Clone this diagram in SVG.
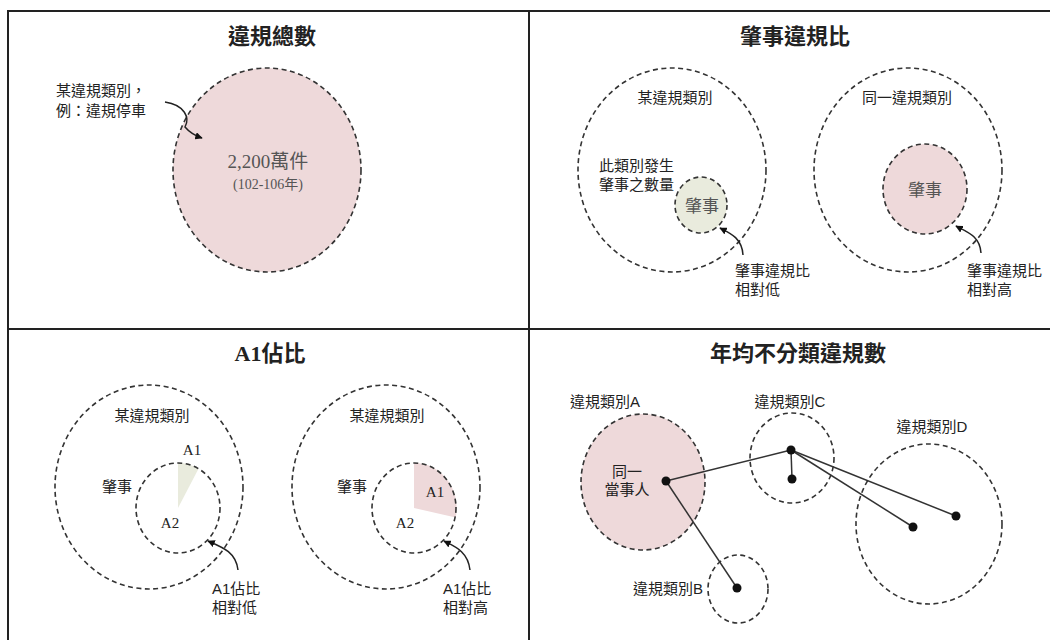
<svg xmlns="http://www.w3.org/2000/svg" width="1050" height="640" viewBox="0 0 1050 640">
<defs>
<marker id="ah" viewBox="0 0 10 10" refX="9" refY="5" markerWidth="5" markerHeight="5" orient="auto-start-reverse">
<path d="M0,0 L10,5 L0,10 z" fill="#111"/>
</marker>
<style>
.frame{fill:none;stroke:#222;stroke-width:2}
.dash{fill:none;stroke:#333;stroke-width:1.6;stroke-dasharray:5 3.5}
.pink{fill:#eed9da}
.green{fill:#e9ebdd}
.title{font-family:"Liberation Serif","Noto Sans CJK TC",serif;font-size:22px;font-weight:bold;fill:#222;text-anchor:middle}
.lbl{font-family:"Liberation Sans","Noto Sans CJK TC",sans-serif;font-size:15px;fill:#222}
.mid{text-anchor:middle}
.big{font-family:"Liberation Serif","Noto Sans CJK TC",serif;font-size:19px;fill:#555;text-anchor:middle}
.ser{font-family:"Liberation Serif","Noto Sans CJK TC",serif;font-size:15px;fill:#222;text-anchor:middle}
.arr{fill:none;stroke:#222;stroke-width:1.5;marker-end:url(#ah)}
.edge{stroke:#333;stroke-width:1.5}
.dot{fill:#111}
</style>
</defs>
<rect width="1050" height="640" fill="#fff"/>
<g id="frame">
<rect class="frame" x="8" y="11" width="1050" height="640"/>
<line class="frame" x1="529" y1="11" x2="529" y2="640"/>
<line class="frame" x1="8" y1="329" x2="1050" y2="329"/>
</g>

<g id="panel-total">
<text class="title" x="272" y="44">違規總數</text>
<ellipse class="dash pink" cx="267" cy="170" rx="94" ry="102"/>
<text class="big" x="268" y="168">2,200萬件</text>
<text class="big" x="268" y="189" style="font-size:14px">(102-106年)</text>
<text class="lbl" x="56" y="96">某違規類別，</text>
<text class="lbl" x="56" y="116">例：違規停車</text>
<path class="arr" d="M165,102 C185,105 190,118 185,127 C190,133 196,136 202,138"/>
</g>

<g id="panel-ratio">
<text class="title" x="795" y="44">肇事違規比</text>
<ellipse class="dash" cx="672" cy="170" rx="94" ry="102"/>
<text class="lbl mid" x="675" y="103">某違規類別</text>
<text class="lbl" x="599" y="171">此類別發生</text>
<text class="lbl" x="599" y="190">肇事之數量</text>
<ellipse class="dash green" cx="701" cy="205" rx="26" ry="28"/>
<text class="big" x="702" y="212" style="font-size:17px">肇事</text>
<path class="arr" d="M743,255 C742,238 730,233 720,228"/>
<text class="lbl" x="735" y="276">肇事違規比</text>
<text class="lbl" x="735" y="295">相對低</text>

<ellipse class="dash" cx="908" cy="170" rx="94" ry="102"/>
<text class="lbl mid" x="907" y="103">同一違規類別</text>
<ellipse class="dash pink" cx="925" cy="189" rx="42" ry="45"/>
<text class="big" x="925" y="196" style="font-size:17px">肇事</text>
<path class="arr" d="M981,253 C980,236 967,232 956,226"/>
<text class="lbl" x="967" y="276">肇事違規比</text>
<text class="lbl" x="967" y="295">相對高</text>
</g>

<g id="panel-a1">
<text class="title" x="270" y="361">A1佔比</text>
<ellipse class="dash" cx="149" cy="487" rx="94" ry="102"/>
<text class="lbl mid" x="152" y="421">某違規類別</text>
<path class="green" d="M178,508 L178,463 A42,45 0 0 1 198.5,468.7 Z"/>
<ellipse class="dash" cx="178" cy="508" rx="42" ry="45"/>
<text class="ser" x="192" y="455">A1</text>
<text class="lbl mid" x="117" y="492">肇事</text>
<text class="ser" x="170" y="528">A2</text>
<path class="arr" d="M238,570 C236,552 222,547 208,541"/>
<text class="lbl" x="212" y="594">A1佔比</text>
<text class="lbl" x="212" y="613">相對低</text>

<ellipse class="dash" cx="386" cy="487" rx="94" ry="102"/>
<text class="lbl mid" x="387" y="421">某違規類別</text>
<path class="pink" d="M414,508 L414,463 A42,45 0 0 1 455.7,517.5 Z"/>
<ellipse class="dash" cx="414" cy="508" rx="42" ry="45"/>
<text class="ser" x="435" y="497">A1</text>
<text class="lbl mid" x="352" y="492">肇事</text>
<text class="ser" x="405" y="528">A2</text>
<path class="arr" d="M470,570 C468,552 456,547 444,541"/>
<text class="lbl" x="443" y="594">A1佔比</text>
<text class="lbl" x="443" y="613">相對高</text>
</g>

<g id="panel-annual">
<text class="title" x="798" y="361">年均不分類違規數</text>
<g id="cat-a">
<ellipse class="dash pink" cx="643" cy="482" rx="62" ry="68"/>
<text class="lbl mid" x="605" y="407">違規類別A</text>
<text class="lbl mid" x="627" y="477">同一</text>
<text class="lbl mid" x="627" y="495">當事人</text>
</g>
<g id="cat-c">
<ellipse class="dash" cx="792" cy="458" rx="42" ry="45"/>
<text class="lbl mid" x="790" y="407">違規類別C</text>
</g>
<g id="cat-d">
<ellipse class="dash" cx="929" cy="524" rx="73" ry="80"/>
<text class="lbl mid" x="932" y="432">違規類別D</text>
</g>
<g id="cat-b">
<ellipse class="dash" cx="738" cy="589" rx="30" ry="34"/>
<text class="lbl" x="703" y="594" text-anchor="end">違規類別B</text>
</g>
<g id="connectors">
<line class="edge" x1="666" y1="481" x2="791" y2="450"/>
<line class="edge" x1="666" y1="481" x2="737" y2="588"/>
<line class="edge" x1="791" y1="450" x2="792" y2="479"/>
<line class="edge" x1="791" y1="450" x2="913" y2="527"/>
<line class="edge" x1="791" y1="450" x2="956" y2="516"/>
</g>
<g id="dots">
<circle class="dot" cx="666" cy="481" r="4.5"/>
<circle class="dot" cx="791" cy="450" r="4.5"/>
<circle class="dot" cx="792" cy="479" r="4.5"/>
<circle class="dot" cx="913" cy="527" r="4.5"/>
<circle class="dot" cx="956" cy="516" r="4.5"/>
<circle class="dot" cx="737" cy="588" r="4.5"/>
</g>
</g>
</svg>
